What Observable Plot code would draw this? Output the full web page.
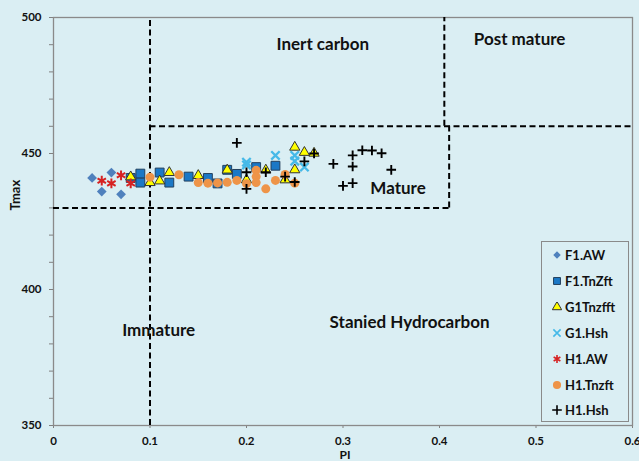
<!DOCTYPE html>
<html><head><meta charset="utf-8">
<script src="https://cdn.jsdelivr.net/npm/d3@7"></script>
<script src="https://cdn.jsdelivr.net/npm/@observablehq/plot@0.6"></script>
<style>
html,body{margin:0;padding:0;background:#DAEEF3;}
#wrap{position:relative;width:639px;height:461px;overflow:hidden;font-family:Lato,"Open Sans",sans-serif;font-weight:bold;}
#legend{position:absolute;left:541px;top:241px;width:88px;height:181px;border:1.5px solid #8a8a8a;box-sizing:border-box;}
.lg{position:absolute;left:0;height:20px;display:flex;align-items:center;font-size:13px;color:#111;}
.lg svg{margin-left:10px;margin-right:3px;}
</style></head><body><div id="wrap"></div>
<script>
// ---- data ----
const seriesNames = ["F1.AW", "F1.TnZft", "G1Tnzfft", "G1.Hsh", "H1.AW", "H1.Tnzft", "H1.Hsh"];

const f1AW_PI   = [0.04, 0.06, 0.05, 0.07];
const f1AW_Tmax = [441, 443, 436, 435];

const f1Tn_PI   = [0.08, 0.09, 0.09, 0.11, 0.12, 0.14, 0.16, 0.17, 0.18, 0.19, 0.21, 0.23];
const f1Tn_Tmax = [441, 442.6, 439.3, 443, 439.3, 441.5, 441, 439, 444, 442.5, 445, 445.5];

const g1Tn_PI   = [0.08, 0.10, 0.11, 0.12, 0.15, 0.18, 0.20, 0.22, 0.24, 0.25, 0.25, 0.26, 0.27];
const g1Tn_Tmax = [441.4, 439.3, 439.9, 443, 441.9, 443.9, 440.3, 443.9, 440.3, 452.3, 444, 450.4, 450.1];

const g1Hsh_PI   = [0.20, 0.20, 0.23, 0.25, 0.25, 0.26];
const g1Hsh_Tmax = [446.8, 445.8, 449.3, 449.3, 447.2, 445];

const h1AW_PI   = [0.05, 0.06, 0.07, 0.08];
const h1AW_Tmax = [440, 439, 442, 439];

const h1Tn_PI   = [0.10, 0.13, 0.15, 0.16, 0.17, 0.18, 0.19, 0.20, 0.21, 0.21, 0.21, 0.22, 0.23, 0.24, 0.25];
const h1Tn_Tmax = [441.3, 442.2, 439.3, 439.1, 439.2, 439.4, 440.1, 438.9, 443.8, 441.5, 439.3, 437, 440.1, 442.3, 439.1];

const h1Hsh_PI   = [0.19, 0.20, 0.20, 0.22, 0.24, 0.25, 0.26, 0.27, 0.29, 0.30, 0.31, 0.31, 0.31, 0.32, 0.33, 0.34, 0.35];
const h1Hsh_Tmax = [453.9, 443.1, 437, 443.1, 441.5, 439.5, 447.1, 450, 446.2, 438.1, 449.3, 445.2, 439.1, 451.2, 451.1, 450.1, 444];

// zone boundaries (dashed), in data units
const vBoundPI = [0.1, 0.405, 0.41];
const vBoundLo = [350, 460, 430];
const vBoundHi = [500, 500, 460];
const hBoundTmax = [430, 460];
const hBoundLo = [0, 0.1];
const hBoundHi = [0.41, 0.6];

// zone labels
const zoneNames = ["Inert carbon", "Post mature", "Mature", "Immature", "Stanied Hydrocarbon"];
const zonePI    = [0.279, 0.483, 0.357, 0.109, 0.369];
const zoneTmax  = [490, 491.9, 437.1, 384.9, 387.9];

// axis ticks
const xTicks = [0, 0.1, 0.2, 0.3, 0.4, 0.5, 0.6];
const yMajor = [350, 400, 450, 500];
const yMinor = [360, 370, 380, 390, 410, 420, 430, 440, 460, 470, 480, 490];

// ---- build ----
const seriesPI = [f1AW_PI, f1Tn_PI, g1Tn_PI, g1Hsh_PI, h1AW_PI, h1Tn_PI, h1Hsh_PI];
const seriesTmax = [f1AW_Tmax, f1Tn_Tmax, g1Tn_Tmax, g1Hsh_Tmax, h1AW_Tmax, h1Tn_Tmax, h1Hsh_Tmax];
const styles = [
  {symbol: "diamond2", fill: "#4F81BD", stroke: "none", r: 4.4, sw: 0, lg: d3.symbolDiamond2, ls: 36},
  {symbol: "square", fill: "#1B78C6", stroke: "#23405E", r: 5.0, sw: 1, lg: d3.symbolSquare, ls: 48},
  {symbol: "triangle", fill: "#FFFF00", stroke: "#333", r: 3.8, sw: 1, lg: d3.symbolTriangle, ls: 38},
  {symbol: "times", fill: "none", stroke: "#45B9E8", r: 3.9, sw: 2.3, lg: d3.symbolTimes, ls: 36},
  {symbol: "asterisk", fill: "none", stroke: "#D62222", r: 4.6, sw: 2, lg: d3.symbolAsterisk, ls: 42},
  {symbol: "circle", fill: "#EE9448", stroke: "none", r: 4.5, sw: 0, lg: d3.symbolCircle, ls: 52},
  {symbol: "plus", fill: "none", stroke: "#000", r: 3.2, sw: 1.9, lg: d3.symbolPlus, ls: 32}
];

const dotMarks = seriesNames.map((name, i) => {
  const rows = seriesPI[i].map((p, j) => ({PI: p, Tmax: seriesTmax[i][j]}));
  const s = styles[i];
  return Plot.dot(rows, {x: "PI", y: "Tmax", symbol: () => s.symbol, r: s.r,
    fill: s.fill, stroke: s.stroke, strokeWidth: s.sw});
});

const vRows = vBoundPI.map((x, i) => ({x, y1: vBoundLo[i], y2: vBoundHi[i]}));
const hRows = hBoundTmax.map((y, i) => ({y, x1: hBoundLo[i], x2: hBoundHi[i]}));
const zRows = zoneNames.map((t, i) => ({t, x: zonePI[i], y: zoneTmax[i]}));

const chart = Plot.plot({
  width: 639, height: 461,
  marginLeft: 53, marginRight: 7, marginTop: 17, marginBottom: 36,
  style: {background: "transparent", fontFamily: "Lato, 'Open Sans', sans-serif", fontWeight: "bold", fontSize: "11px", color: "#111", overflow: "visible"},
  x: {domain: [0, 0.6]},
  y: {domain: [350, 500]},
  symbol: {type: "identity"},
  marks: [
    Plot.axisY({ticks: yMinor, tickSize: 4, text: null, label: null, stroke: "#808080"}),
    Plot.axisY({ticks: yMajor, tickSize: 4, tickPadding: 8, label: null, stroke: "#808080", fontSize: 11.5, fontWeight: "bold"}),
    Plot.axisX({ticks: xTicks, tickSize: 3, tickPadding: 8, label: null, stroke: "#808080", tickFormat: d3.format("~g"), fontSize: 11.5, fontWeight: "bold"}),
    Plot.frame({stroke: "#8a8a8a", strokeWidth: 1.3}),
    Plot.ruleX(vRows, {x: "x", y1: "y1", y2: "y2", stroke: "#000", strokeWidth: 2, strokeDasharray: "6,3.5"}),
    Plot.ruleY(hRows, {y: "y", x1: "x1", x2: "x2", stroke: "#000", strokeWidth: 2, strokeDasharray: "6,3.5"}),
    Plot.text(zRows, {x: "x", y: "y", text: "t", fontSize: 17, fontWeight: "bold", fill: "#111"}),
    ...dotMarks,
    Plot.text(["Tmax"], {frameAnchor: "left", dx: -38, dy: -11, rotate: -90, fontSize: 13, fontWeight: "bold"}),
    Plot.text(["PI"], {frameAnchor: "bottom", lineAnchor: "bottom", dy: 33, dx: 2, fontSize: 12, fontWeight: "bold"})
  ]
});
const wrap = document.getElementById("wrap");
wrap.appendChild(chart);

// legend
const lg = document.createElement("div");
lg.id = "legend";
seriesNames.forEach((name, i) => {
  const s = styles[i];
  const row = document.createElement("div");
  row.className = "lg";
  row.style.top = (3 + i * 25.9) + "px";
  const svg = d3.create("svg").attr("width", 10).attr("height", 10);
  svg.append("path").attr("transform", "translate(5,5)")
    .attr("d", d3.symbol(s.lg, s.ls)())
    .attr("fill", s.fill).attr("stroke", s.stroke === "none" ? null : s.stroke)
    .attr("stroke-width", s.sw ? Math.min(s.sw, 1.6) : null);
  row.appendChild(svg.node());
  const sp = document.createElement("span");
  sp.textContent = name;
  row.appendChild(sp);
  lg.appendChild(row);
});
wrap.appendChild(lg);
</script>
</body></html>
